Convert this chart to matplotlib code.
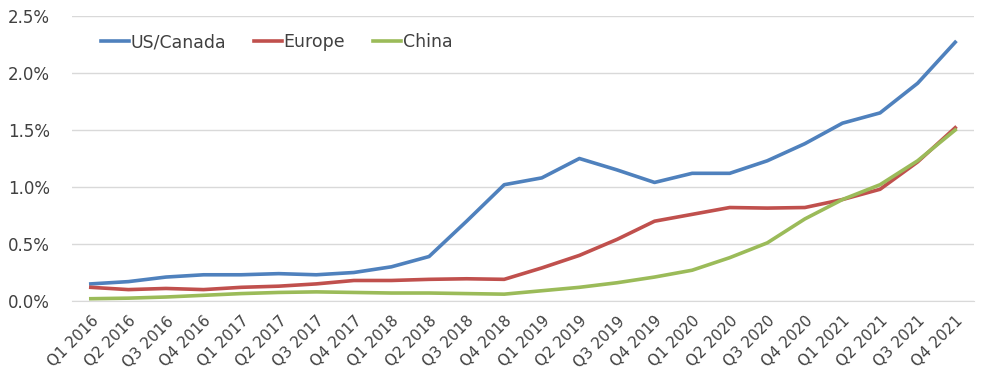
import numpy as np
import matplotlib.pyplot as plt
from matplotlib.ticker import PercentFormatter

quarters = ["Q1 2016", "Q2 2016", "Q3 2016", "Q4 2016",
            "Q1 2017", "Q2 2017", "Q3 2017", "Q4 2017",
            "Q1 2018", "Q2 2018", "Q3 2018", "Q4 2018",
            "Q1 2019", "Q2 2019", "Q3 2019", "Q4 2019",
            "Q1 2020", "Q2 2020", "Q3 2020", "Q4 2020",
            "Q1 2021", "Q2 2021", "Q3 2021", "Q4 2021"]

us_canada = [0.15, 0.17, 0.21, 0.23, 0.23, 0.24, 0.23, 0.25, 0.30, 0.39, 0.70, 1.02,
             1.08, 1.25, 1.15, 1.04, 1.12, 1.12, 1.23, 1.38, 1.56, 1.65, 1.91, 2.27]
europe = [0.12, 0.10, 0.11, 0.10, 0.12, 0.13, 0.15, 0.18, 0.18, 0.19, 0.195, 0.19,
          0.29, 0.40, 0.54, 0.70, 0.76, 0.82, 0.815, 0.82, 0.89, 0.98, 1.22, 1.52]
china = [0.02, 0.025, 0.035, 0.05, 0.065, 0.075, 0.08, 0.075, 0.07, 0.07, 0.065, 0.06,
         0.09, 0.12, 0.16, 0.21, 0.27, 0.38, 0.51, 0.72, 0.89, 1.02, 1.23, 1.50]

plt.rcParams['font.family'] = ['DejaVu Sans']

fig = plt.figure(figsize=(9.92, 3.76), dpi=100)
ax = fig.add_axes([72/992, 1 - 301/376, (974-72)/992, (301-16)/376])

x = np.arange(len(quarters))
ax.plot(x, us_canada, color="#4f81bd", linewidth=2.6, label="US/Canada")
ax.plot(x, europe, color="#c0504d", linewidth=2.6, label="Europe")
ax.plot(x, china, color="#9bbb59", linewidth=2.6, label="China")

ax.set_xlim(-0.5, len(quarters) - 0.5)
ax.set_ylim(0, 2.5)
ax.set_yticks(np.arange(0, 2.51, 0.5))
ax.yaxis.set_major_formatter(PercentFormatter(decimals=1))
ax.set_xticks(x)
ax.set_xticklabels(quarters, rotation=45, ha="right", rotation_mode="anchor")

ax.grid(axis="y", color="#d9d9d9", linewidth=1)
ax.set_axisbelow(True)
for s in ax.spines.values():
    s.set_visible(False)
ax.spines["bottom"].set_visible(True)
ax.spines["bottom"].set_color("#d9d9d9")
ax.tick_params(axis="y", length=0, labelsize=12, colors="#404040", pad=16)
ax.tick_params(axis="x", length=0, labelsize=11, colors="#404040", pad=9)

ax.legend(loc="upper left", bbox_to_anchor=(0.015, 0.995), ncol=3, frameon=False,
          fontsize=12.5, handlelength=1.6, handletextpad=0.1, columnspacing=1.6,
          labelcolor="#404040")

fig.savefig("out.png", dpi=100)
